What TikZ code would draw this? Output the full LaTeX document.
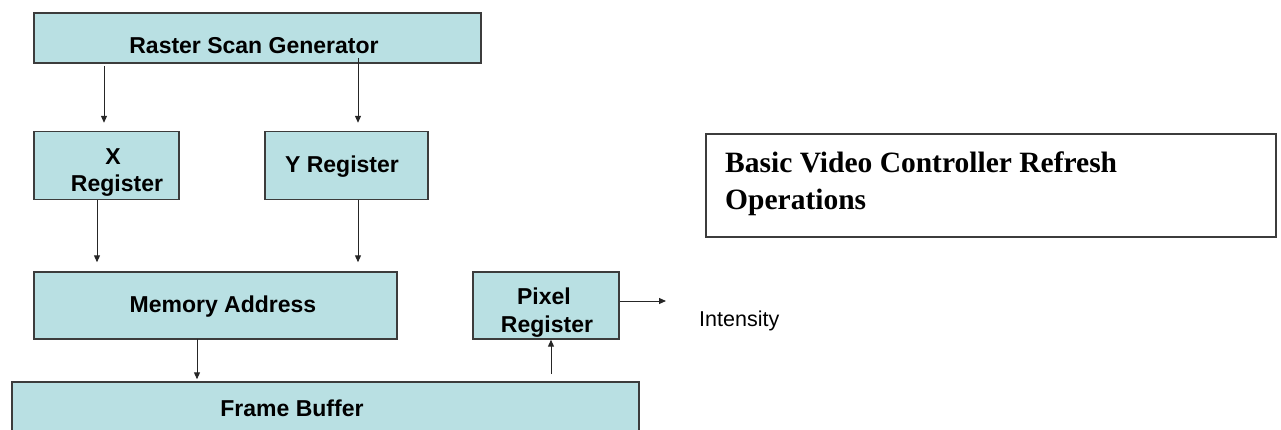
\documentclass[tikz,border=0pt]{standalone}
\usepackage{fontspec}
\setmainfont{Liberation Serif}
\setsansfont{Liberation Sans}
\usetikzlibrary{arrows.meta,calc}
\definecolor{boxfill}{RGB}{185,224,227}
\definecolor{boxline}{RGB}{60,60,60}
\begin{document}
\begin{tikzpicture}[x=1pt,y=-1pt,
  box/.style={draw=boxline, line width=1.4pt, fill=boxfill, inner sep=0pt},
  lbl/.style={font=\sffamily\bfseries\fontsize{23}{27}\selectfont, inner sep=0pt, anchor=base},
  ttl/.style={font=\rmfamily\bfseries\fontsize{29.5}{37}\selectfont, inner sep=0pt, anchor=base west},
  arr/.style={-{Triangle[length=7pt,width=6pt]}, line width=1pt, draw=black!85}]
\useasboundingbox (0,0) rectangle (1281,430);
\clip (0,0) rectangle (1281,430);
% boxes
\node[box, minimum width=447pt, minimum height=50pt] (rsg) at (257.5,38) {};
\node[box, minimum width=145pt, minimum height=68pt] (xreg) at (106.5,165.5) {};
\node[box, minimum width=163pt, minimum height=68pt] (yreg) at (346.5,165.5) {};
\node[box, minimum width=363pt, minimum height=67pt] (mem) at (215.5,305.5) {};
\node[box, minimum width=146pt, minimum height=67pt] (pix) at (546,305.5) {};
\node[box, minimum width=627pt, minimum height=52pt] (fb) at (325.5,408) {};
\node[draw=boxline, line width=1.4pt, fill=white, minimum width=570pt, minimum height=103pt] (title) at (991,185.5) {};
% texts
\node[lbl] (trsg) at (254,54) {Raster Scan Generator};
\node[lbl] (tx1) at (113,165) {X};
\node[lbl] (tx2) at (117,192) {Register};
\node[lbl] (ty) at (342,173) {Y Register};
\node[lbl] (tmem) at (223,312) {Memory Address};
\node[lbl] (tp1) at (544,304) {Pixel};
\node[lbl] (tp2) at (547,332) {Register};
\node[lbl] (tfb) at (292,416) {Frame Buffer};
\node[ttl] (tt1) at (725,173) {Basic Video Controller Refresh};
\node[ttl] (tt2) at (725,210) {Operations};
\node[font=\sffamily\fontsize{21.5}{26}\selectfont, inner sep=0pt, anchor=base west] (int) at (699,326) {Intensity};
% connectors
\coordinate (a1) at (104,66);
\coordinate (a2) at (358,58);
\draw[arr] (a1) -- ([yshift=8pt]a1 |- xreg.north);
\draw[arr] (a2) -- ([yshift=8pt]a2 |- yreg.north);
\coordinate (b1) at (97,200);
\coordinate (b2) at (358,200);
\draw[arr] (b1) -- ([yshift=9pt]b1 |- mem.north);
\draw[arr] (b2) -- ([yshift=9pt]b2 |- mem.north);
\coordinate (c1) at (197,339);
\draw[arr] (c1) -- ([yshift=2pt]c1 |- fb.north);
\coordinate (d1) at (551,374);
\draw[arr] (d1) -- (d1 |- pix.south);
\coordinate (e1) at (666,301);
\draw[arr] (e1 -| pix.east) -- (e1);
\end{tikzpicture}
\end{document}
